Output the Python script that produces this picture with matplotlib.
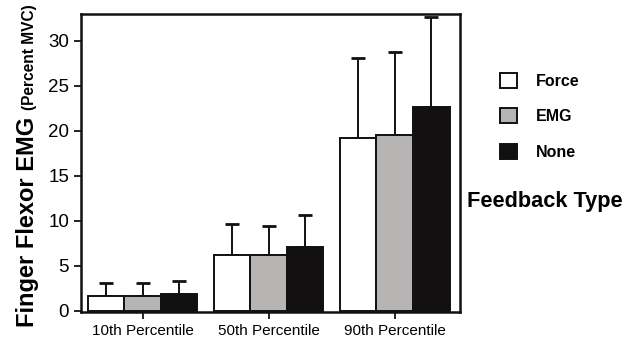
import numpy as np
import matplotlib
matplotlib.use("Agg")
import matplotlib.pyplot as plt

plt.rcParams['font.family'] = ['Liberation Sans', 'DejaVu Sans']

groups = ["10th Percentile", "50th Percentile", "90th Percentile"]
series = ["Force", "EMG", "None"]
force = [1.6, 6.2, 19.2]
emg = [1.6, 6.2, 19.5]
none = [1.8, 7.1, 22.6]
force_err = [1.5, 3.4, 8.9]
emg_err = [1.5, 3.2, 9.2]
none_err = [1.5, 3.5, 10.0]
colors = ["#ffffff", "#b7b5b4", "#121010"]

fig = plt.figure(figsize=(6.27, 3.41), dpi=100)
ax = fig.add_axes([0.129, 0.085, 0.605, 0.875])

x = np.arange(len(groups))
w = 0.29
vals = [force, emg, none]
errs = [force_err, emg_err, none_err]
for i, (v, e, c, s) in enumerate(zip(vals, errs, colors, series)):
    xs = x + (i - 1) * w
    ax.bar(xs, v, w, color=c, edgecolor="#111", linewidth=1.4, label=s, zorder=2)
    ax.errorbar(xs, v, yerr=[np.zeros(3), e], fmt="none", ecolor="#111",
                elinewidth=1.4, capsize=5, capthick=2, zorder=1)

ax.set_xlim(-0.49, 2.52)
ax.set_ylim(-0.15, 33)
ax.set_xticks(x)
ax.set_xticklabels(groups, fontsize=11)
ax.set_yticks([0, 5, 10, 15, 20, 25, 30])
ax.tick_params(axis='y', labelsize=13.5, width=1.2, length=5)
ax.tick_params(axis='x', width=1.2, length=5)
for sp in ax.spines.values():
    sp.set_linewidth(1.8)
    sp.set_color("#111")

leg = fig.legend(loc="upper left", bbox_to_anchor=(0.775, 0.828), frameon=False,
                 prop={'weight': 'bold', 'size': 11.5}, handlelength=1.05,
                 handleheight=1.05, labelspacing=1.22, handletextpad=1.2)
fig.text(0.745, 0.41, "Feedback Type", fontsize=15.7, fontweight='bold', va='center')

fig.text(34 / 627, 1 - 222 / 341, "Finger Flexor EMG", rotation=90, fontsize=17,
         fontweight='bold', ha='center', va='baseline', rotation_mode='anchor')
fig.text(34 / 627, 1 - 57 / 341, "(Percent MVC)", rotation=90, fontsize=11.2,
         fontweight='bold', ha='center', va='baseline', rotation_mode='anchor')

fig.savefig("out.png", dpi=100)
